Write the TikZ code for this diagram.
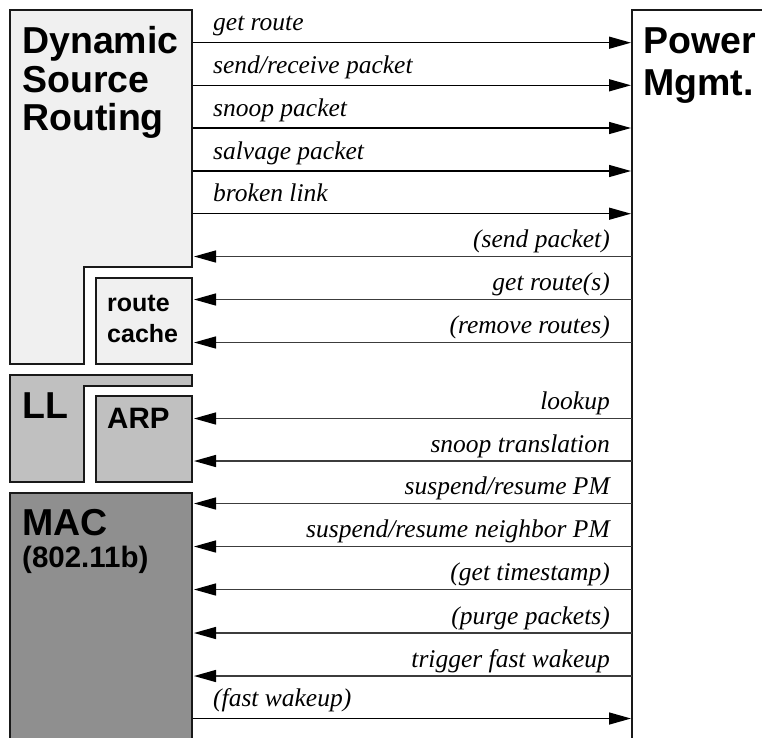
\documentclass[tikz,border=0pt]{standalone}
\usepackage{fontspec}
\setmainfont{Liberation Serif}
\setsansfont{Liberation Sans}
\usetikzlibrary{arrows.meta}
\definecolor{light}{RGB}{240,240,240}
\definecolor{mid}{RGB}{192,192,192}
\definecolor{dark}{RGB}{143,143,143}
\definecolor{edge}{RGB}{25,25,25}
\definecolor{lline}{RGB}{60,60,60}
\begin{document}
\begin{tikzpicture}[x=1pt,y=-1pt,
  box/.style={draw=edge, line width=2.2pt, line join=miter},
  lab/.style={font=\fontsize{25.5}{30}\selectfont\itshape, inner sep=0pt},
  big/.style={font=\fontsize{37.5}{40}\selectfont\sffamily\bfseries, inner sep=0pt, anchor=base west},
  mbig/.style={font=\fontsize{29.5}{32}\selectfont\sffamily\bfseries, inner sep=0pt, anchor=base west},
  small/.style={font=\fontsize{25}{30}\selectfont\sffamily\bfseries, inner sep=0pt, anchor=base west},
  tip/.style={-{Triangle[length=22pt,width=12pt,color=black]}},
  rarrow/.style={tip, line width=1.4pt, draw=black},
  larrow/.style={tip, line width=1.4pt, draw=lline}]
\useasboundingbox (0,0) rectangle (762,737);
% boxes
\draw[box, fill=white] (632,10) rectangle (790,770);
\draw[box, fill=light] (10,10) -- (192,10) -- (192,267) -- (84,267) -- (84,364) -- (10,364) -- cycle;
\draw[box, fill=light] (96,278) rectangle (192,364);
\draw[box, fill=mid] (10,375) -- (192,375) -- (192,386) -- (84,386) -- (84,482) -- (10,482) -- cycle;
\draw[box, fill=mid] (96,396) rectangle (192,482);
\draw[box, fill=dark] (10,493) rectangle (192,770);
% box titles
\node[big] (dsr1) at (22,53) {Dynamic};
\node[big] (dsr2) at (22,92) {Source};
\node[big] (dsr3) at (22,130) {Routing};
\node[small] (rc1) at (107,311) {route};
\node[small] (rc2) at (107,342) {cache};
\node[big] (ll) at (22,418) {LL};
\node[mbig] (arp) at (107,428) {ARP};
\node[big] (mac) at (22,535) {MAC};
\node[mbig] (mac2) at (22,567) {(802.11b)};
\node[big] (pm1) at (643,53) {Power};
\node[big] (pm2) at (643,95) {Mgmt.};
% arrows to power management
\foreach \y/\t [count=\i] in {42.7/{get route}, 85.3/{send/receive packet}, 128/{snoop packet}, 171/{salvage packet}, 213.7/{broken link}, 718.5/{(fast wakeup)}}{
  \coordinate (rs\i) at (193,\y);
  \coordinate (re\i) at (631,\y);
  \draw[rarrow] (rs\i) -- (re\i);
  \node[lab, anchor=base west] (rl\i) at (213,\y-12) {\t};
}
% arrows from power management
\foreach \y/\t [count=\i] in {256.5/{(send packet)}, 299.5/{get route(s)}, 342.5/{(remove routes)}, 418.5/{lookup}, 461/{snoop translation}, 503.5/{suspend/resume PM}, 546.5/{suspend/resume neighbor PM}, 589.5/{(get timestamp)}, 633/{(purge packets)}, 676/{trigger fast wakeup}}{
  \coordinate (ls\i) at (632,\y);
  \coordinate (le\i) at (194,\y);
  \draw[larrow] (ls\i) -- (le\i);
  \node[lab, anchor=base east] (ll\i) at (610,\y-9) {\t};
}
\end{tikzpicture}
\end{document}
